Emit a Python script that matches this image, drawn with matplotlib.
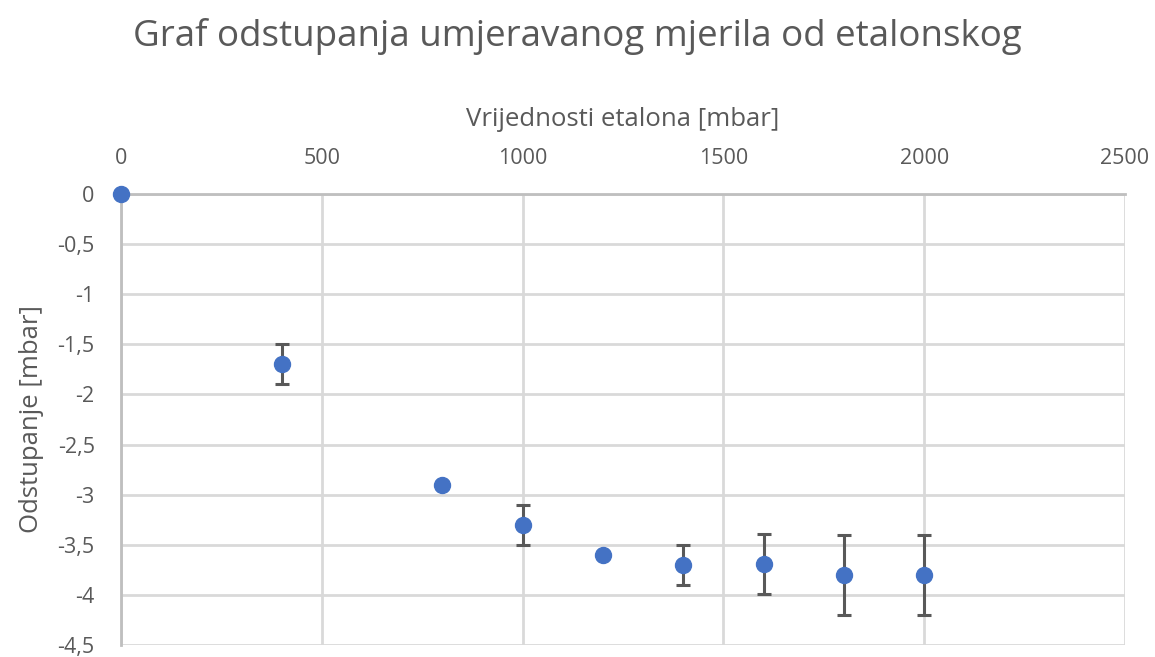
import matplotlib
matplotlib.use('Agg')
import matplotlib.pyplot as plt
from matplotlib.ticker import FuncFormatter

plt.rcParams['font.family'] = ['Open Sans', 'DejaVu Sans']

# podaci
etalon = [0, 400, 800, 1000, 1200, 1400, 1600, 1800, 2000]
odstupanje = [0, -1.7, -2.9, -3.3, -3.6, -3.7, -3.69, -3.8, -3.8]
nesigurnost = [0, 0.2, 0, 0.2, 0, 0.2, 0.3, 0.4, 0.4]

x_ticks = [0, 500, 1000, 1500, 2000, 2500]
y_ticks = [0, -0.5, -1, -1.5, -2, -2.5, -3, -3.5, -4, -4.5]

TEXT = '#595959'
GRID = '#d9d9d9'

fig = plt.figure(figsize=(11.55, 6.57), dpi=100, facecolor='white')
ax = fig.add_axes([0.1048, 0.0183, 0.8692, 0.6864])

ax.errorbar(etalon, odstupanje, yerr=nesigurnost, fmt='none', ecolor='#595959',
            elinewidth=2.2, capsize=5, capthick=2.2, zorder=3)
ax.plot(etalon, odstupanje, 'o', color='#4472C4', markersize=11.5, zorder=4, clip_on=False)

ax.set_xlim(0, 2500)
ax.set_ylim(-4.5, 0)
ax.set_xticks(x_ticks)
ax.set_yticks(y_ticks)
ax.yaxis.set_major_formatter(FuncFormatter(lambda v, p: f"{v:g}".replace('.', ',')))

ax.xaxis.tick_top()
ax.xaxis.set_label_position('top')
ax.grid(True, color=GRID, linewidth=2)
ax.set_axisbelow(True)
for s in ax.spines.values():
    s.set_visible(False)
ax.spines['left'].set_visible(True)
ax.spines['left'].set_color('#bfbfbf')
ax.spines['left'].set_linewidth(2)
ax.spines['top'].set_visible(True)
ax.spines['top'].set_color('#bfbfbf')
ax.spines['top'].set_linewidth(2)

ax.tick_params(axis='both', length=0, labelsize=15.5, labelcolor=TEXT)
ax.tick_params(axis='x', pad=18)
ax.tick_params(axis='y', pad=19)

ax.set_xlabel('Vrijednosti etalona [mbar]', fontsize=18.5, color=TEXT, labelpad=15.5)
ax.set_ylabel('Odstupanje [mbar]', fontsize=18.5, color=TEXT, labelpad=10)

fig.text(0.5, 0.944, 'Graf odstupanja umjeravanog mjerila od etalonskog',
         ha='center', va='center', fontsize=26.5, color=TEXT)

fig.savefig('out.png', dpi=100)
